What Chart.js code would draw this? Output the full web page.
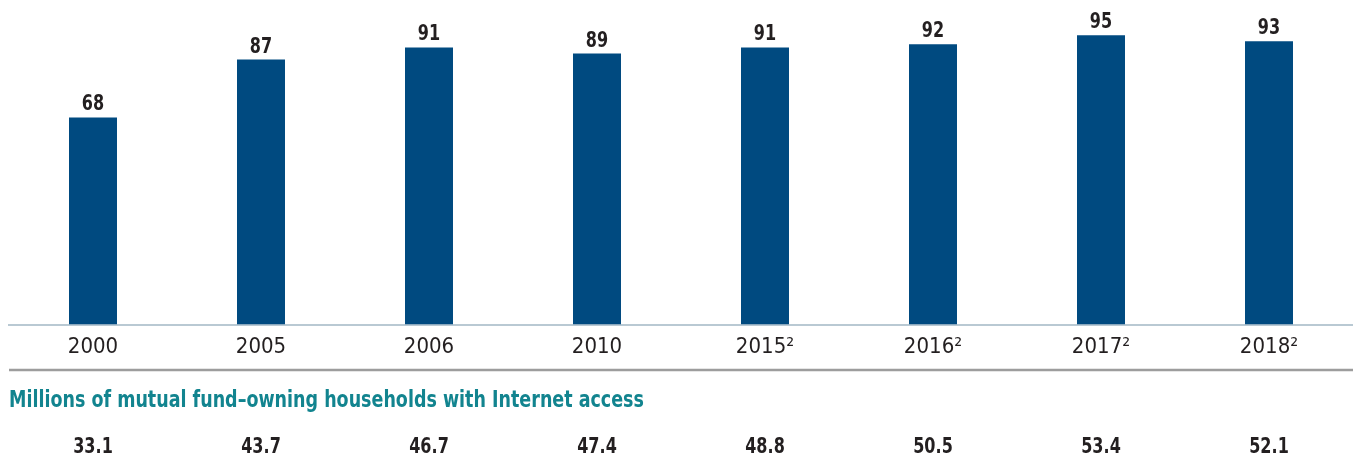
<!DOCTYPE html>
<html>
<head>
<meta charset="utf-8">
<script src="https://cdn.jsdelivr.net/npm/chart.js@4"></script>
<style>
  html, body { margin: 0; padding: 0; background: #ffffff; }
  #wrap { width: 1353px; height: 460px; }
</style>
</head>
<body>
<div id="wrap"><canvas id="internet-chart"></canvas></div>
<script>
// share of mutual fund-owning households with Internet access (percent)
var years = ['2000', '2005', '2006', '2010', '2015²', '2016²', '2017²', '2018²'];
var percent = [68, 87, 91, 89, 91, 92, 95, 93];
var millions = ['33.1', '43.7', '46.7', '47.4', '48.8', '50.5', '53.4', '52.1'];
var millionsTitle = 'Millions of mutual fund\u2013owning households with Internet access';

var narrow = '"Liberation Sans Narrow", "DejaVu Sans Condensed", sans-serif';

// the original uses a condensed face, squeeze our text a bit
function squeezed(ctx, text, x, y, sx) {
    ctx.save();
    ctx.translate(x, y);
    ctx.scale(sx, 1);
    ctx.fillText(text, 0, 0);
    ctx.restore();
}

// value labels, divider line and the millions row
var extras = {
    id: 'extras',
    afterDatasetsDraw: function (chart) {
        var ctx = chart.ctx;
        var x = chart.scales.x;
        var meta = chart.getDatasetMeta(0);
        ctx.save();

        ctx.fillStyle = '#231f20';
        ctx.font = 'bold 21px ' + narrow;
        ctx.textAlign = 'center';
        ctx.textBaseline = 'alphabetic';
        meta.data.forEach(function (bar, i) {
            squeezed(ctx, String(percent[i]), bar.x, bar.y - 7, 0.85);
        });

        ctx.strokeStyle = '#9d9d9d';
        ctx.lineWidth = 2.5;
        ctx.beginPath();
        ctx.moveTo(chart.chartArea.left, 370);
        ctx.lineTo(chart.width, 370);
        ctx.stroke();

        ctx.fillStyle = '#12848f';
        ctx.font = 'bold 23px ' + narrow;
        ctx.textAlign = 'left';
        squeezed(ctx, millionsTitle, chart.chartArea.left, 407, 0.846);

        ctx.fillStyle = '#231f20';
        ctx.font = 'bold 21px ' + narrow;
        ctx.textAlign = 'center';
        millions.forEach(function (m, i) {
            squeezed(ctx, m, x.getPixelForValue(i), 453, 0.85);
        });
        ctx.restore();
    }
};

var internetChart = new Chart(document.getElementById('internet-chart'), {
    type: 'bar',
    data: {
        labels: years,
        datasets: [{
            data: percent,
            backgroundColor: 'rgb(0, 74, 128)',
            barPercentage: 0.5714,
            categoryPercentage: 0.5
        }]
    },
    options: {
        responsive: true,
        maintainAspectRatio: false,
        animation: false,
        layout: {
            padding: { left: 9, right: 0, top: 20, bottom: 91 }
        },
        plugins: {
            legend: { display: false },
            tooltip: { enabled: false }
        },
        scales: {
            x: {
                grid: { display: false, drawTicks: false },
                border: { color: '#b9c9d3', width: 2 },
                ticks: {
                    color: '#231f20',
                    padding: 9,
                    font: { family: narrow, size: 22 }
                }
            },
            y: {
                display: false,
                min: 0,
                max: 100
            }
        }
    },
    plugins: [extras]
});
</script>
</body>
</html>
